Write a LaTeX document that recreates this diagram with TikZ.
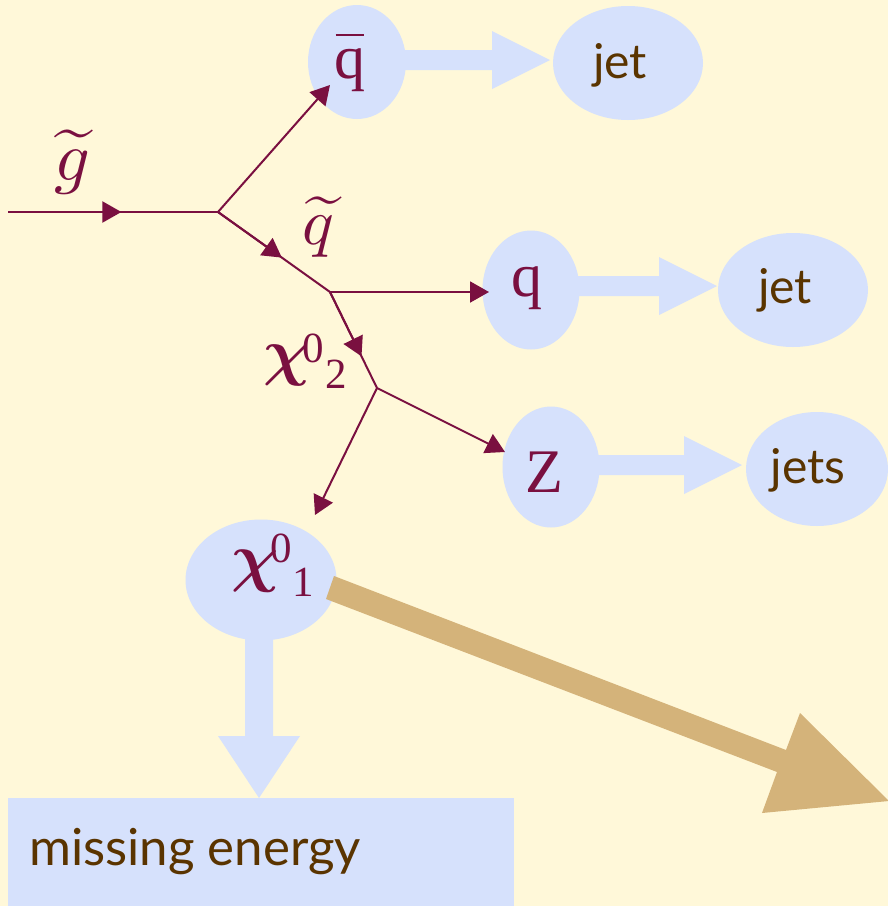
\documentclass[tikz,border=0pt]{standalone}
\usepackage{fontspec}
\usepackage{graphicx}
\setmainfont{Liberation Serif}
\newfontfamily\sansf{Lato}
\usetikzlibrary{arrows.meta,calc,shapes.geometric}
\definecolor{bgc}{RGB}{255,248,217}
\definecolor{blobc}{RGB}{214,225,252}
\definecolor{purc}{RGB}{122,16,64}
\definecolor{brnc}{RGB}{90,52,0}
\definecolor{tanc}{RGB}{212,179,122}
\tikzset{
  blob/.style={ellipse, fill=blobc, draw=none, inner sep=0pt},
  pline/.style={draw=purc, line width=2pt},
  ptip/.style={-{Triangle[length=19pt,width=21pt]}},
  lbl/.style={inner sep=0pt, anchor=base, text=purc},
  sanslbl/.style={inner sep=0pt, anchor=base, text=brnc, font=\sansf\fontsize{48}{56}\selectfont},
  serlbl/.style={inner sep=0pt, anchor=base, text=purc, font=\fontsize{62}{70}\selectfont},
  diglbl/.style={inner sep=0pt, anchor=base, text=purc, font=\fontsize{43}{50}\selectfont},
}
\begin{document}
\begin{tikzpicture}[x=1pt,y=-1pt]
\useasboundingbox (0,0) rectangle (888,906);
\fill[bgc] (0,0) rectangle (888,906);

% fat blue arrows
\fill[blobc] (400,50) -- (492,50) -- (492,31) -- (550,60) -- (492,89) -- (492,70) -- (400,70) -- cycle;
\fill[blobc] (575,276) -- (659,276) -- (659,257) -- (717,286) -- (659,315) -- (659,296) -- (575,296) -- cycle;
\fill[blobc] (595,455) -- (684,455) -- (684,436) -- (742,465) -- (684,494) -- (684,475) -- (595,475) -- cycle;
\fill[blobc] (245,630) -- (245,736) -- (218,736) -- (259,798) -- (300,736) -- (273,736) -- (273,630) -- cycle;

% ellipses
\node[blob, minimum width=98pt, minimum height=114pt] (qbar) at (357,62) {};
\node[blob, minimum width=150pt, minimum height=114pt] (jet1) at (628,63) {};
\node[blob, minimum width=97pt, minimum height=119pt] (q) at (531,290) {};
\node[blob, minimum width=150pt, minimum height=114pt] (jet2) at (793,290) {};
\node[blob, minimum width=97pt, minimum height=121pt] (Z) at (551,467) {};
\node[blob, minimum width=142pt, minimum height=114pt] (jets) at (817,469) {};
\node[blob, minimum width=151pt, minimum height=121pt] (chi1) at (261,580) {};

% missing energy box
\node[fill=blobc, inner sep=0pt, minimum width=506pt, minimum height=108pt, anchor=north west] (miss) at (8,798) {};
\node[inner sep=0pt, anchor=base west, text=brnc, font=\sansf\fontsize{51}{60}\selectfont] (misstxt) at (29,865) {missing energy};

% tan arrow
\fill[tanc] (334,576) -- (786,750) -- (800,713) -- (889,801) -- (762,813) -- (777,772) -- (326,599) -- cycle;

% vertices and tips
\coordinate (gin) at (8,212);
\coordinate (v1) at (218,212);
\coordinate (v2) at (330,292);
\coordinate (v3) at (377,388);
\coordinate (tqbar) at (330,85);
\coordinate (tq) at (489,292);
\coordinate (tZ) at (505,452);
\coordinate (tchi) at (315,515);

\draw[pline] (gin) -- (v1);
\draw[pline, ptip] (gin) -- ($(gin)!0.54!(v1)$);
\draw[pline, ptip] (v1) -- (tqbar);
\draw[pline] (v1) -- (v2);
\draw[pline, ptip] (v1) -- ($(v1)!0.57!(v2)$);
\draw[pline, ptip] (v2) -- (tq);
\draw[pline] (v2) -- (v3);
\draw[pline, ptip] (v2) -- ($(v2)!0.67!(v3)$);
\draw[pline, ptip] (v3) -- (tZ);
\draw[pline, ptip] (v3) -- (tchi);

% labels
\node[lbl] (glbl) at (72,180) {\scalebox{7}{$\widetilde{g}$}};
\node[lbl] (sqlbl) at (318,244) {\scalebox{6.6}{$\widetilde{q}$}};
\node[serlbl] (qbartxt) at (350,78) {\rlap{\hspace{1pt}\rule[42pt]{28pt}{2.5pt}}q};
\node[serlbl] (qtxt) at (527,296) {q};
\node[serlbl] (Ztxt) at (544,492) {Z};
\node[sanslbl] (jet1txt) at (620,78) {jet};
\node[sanslbl] (jet2txt) at (785,303) {jet};
\node[sanslbl] (jetstxt) at (808,483) {jets};

\node[lbl] (chi1txt) at (255,579) {\scalebox{6.6}{\boldmath$\chi$}};
\node[diglbl] (chi1sup) at (281,562) {0};
\node[diglbl] (chi1sub) at (303,596) {1};
\node[lbl] (chi2txt) at (286,373) {\scalebox{6.4}{\boldmath$\chi$}};
\node[diglbl] (chi2sup) at (313,362) {0};
\node[diglbl] (chi2sub) at (336,388) {2};
\end{tikzpicture}
\end{document}
